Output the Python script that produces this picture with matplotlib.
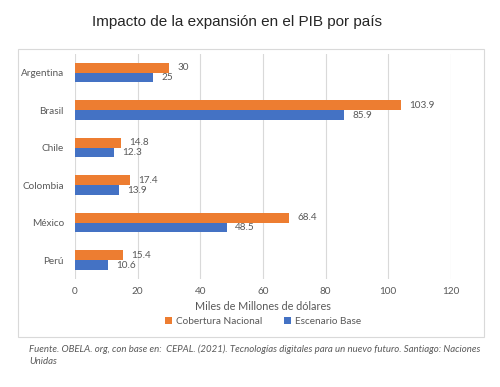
import numpy as np
import matplotlib
matplotlib.use("Agg")
from matplotlib import pyplot as plt
from matplotlib.patches import Rectangle

paises = ["Argentina", "Brasil", "Chile", "Colombia", "México", "Perú"]
cobertura = [30, 103.9, 14.8, 17.4, 68.4, 15.4]
base = [25, 85.9, 12.3, 13.9, 48.5, 10.6]
xticks = [0, 20, 40, 60, 80, 100, 120]

orange = "#ED7D31"
blue = "#4472C4"
gray = "#595959"

plt.rcParams['font.family'] = ['Lato', 'DejaVu Sans']

fig = plt.figure(figsize=(5, 3.87), dpi=100)
# chart frame
fig.patches.append(Rectangle((18/500, 1-337/387), 466/500, 288/387, transform=fig.transFigure,
                             fill=False, edgecolor="#d9d9d9", linewidth=0.8))

ax = fig.add_axes([75/500, 1-279/387, 376/500, 225/387])
y = np.arange(len(paises))
h = 0.26
ax.barh(y - h/2, cobertura, height=h, color=orange, label="Cobertura Nacional", zorder=3)
ax.barh(y + h/2, base, height=h, color=blue, label="Escenario Base", zorder=3)

for i in range(len(paises)):
    ax.annotate(f"{cobertura[i]:g}", (cobertura[i], y[i] - h/2), xytext=(6, 0), textcoords="offset points",
                va="center", ha="left", fontsize=7.2, color=gray)
    ax.annotate(f"{base[i]:g}", (base[i], y[i] + h/2), xytext=(6, 0), textcoords="offset points",
                va="center", ha="left", fontsize=7.2, color=gray)

ax.set_ylim(len(paises) - 0.5, -0.5)
ax.set_xlim(0, 120)
ax.set_xticks(xticks)
ax.set_yticks(y)
ax.set_yticklabels(paises)
ax.tick_params(axis='both', length=0, labelsize=7.2, labelcolor=gray)
ax.tick_params(axis='x', pad=6)
ax.tick_params(axis='y', pad=8)
ax.grid(axis='x', color="#d9d9d9", linewidth=0.8, zorder=0)
for s in ax.spines.values():
    s.set_visible(False)
ax.set_xlabel("Miles de Millones de dólares", fontsize=7.8, color=gray, labelpad=3)

leg = ax.legend(loc="center", bbox_to_anchor=(0.5, -0.19), ncol=2, frameon=False,
                fontsize=7.2, handlelength=0.7, handleheight=0.7, columnspacing=2.2, handletextpad=0.4)
for t in leg.get_texts():
    t.set_color(gray)

fig.text(237/500, 1-22/387, "Impacto de la expansión en el PIB por país", ha="center", va="center",
         fontsize=11, color="#262626", family=['Liberation Sans', 'DejaVu Sans'])

fig.text(29/500, 1-349/387, "Fuente. OBELA. org, con base en:  CEPAL. (2021). Tecnologías digitales para un nuevo futuro. Santiago: Naciones",
         ha="left", va="center", fontsize=6.9, style="italic", color=gray)
fig.text(29/500, 1-362/387, "Unidas", ha="left", va="center", fontsize=6.9, style="italic", color=gray)

fig.savefig("out.png", dpi=100)
